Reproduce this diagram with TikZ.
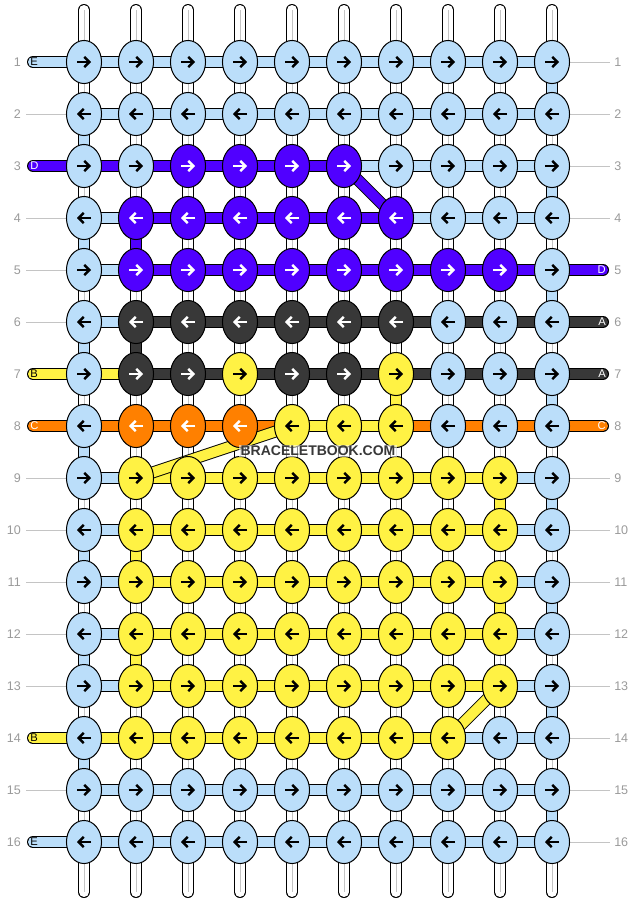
\documentclass[tikz,border=0pt]{standalone}
\usepackage{fontspec}
\setmainfont{Liberation Sans}
\usepackage{tikz}
\usetikzlibrary{shapes.geometric, arrows.meta}

\definecolor{strL}{HTML}{BBDEFA}
\definecolor{strP}{HTML}{5000FF}
\definecolor{strK}{HTML}{383838}
\definecolor{strY}{HTML}{FFF244}
\definecolor{strO}{HTML}{FF8000}
\definecolor{rulegray}{HTML}{C4C4C4}
\definecolor{numgray}{HTML}{9A9A9A}
\colorlet{inkL}{black}
\colorlet{inkY}{black}
\colorlet{inkP}{white}
\colorlet{inkK}{white}
\colorlet{inkO}{white}

\tikzset{
	knot/.style = {ellipse, draw = black, line width = 0.75pt, fill = str#1,
		minimum width = 26.3pt, minimum height = 32.3pt, inner sep = 0pt},
	thread/.style = {line width = 0.75pt, draw = black, double = str#1, double distance = 7.5pt},
	warp/.style = {line width = 0.75pt, draw = black, double = white, double distance = 7.5pt, line cap = round},
	pointer/.style = {line width = 1.8pt, -{Straight Barb[length = 3.8pt, width = 7.8pt]}},
	rownum/.style = {text = numgray, inner sep = 0pt, font = \fontsize{9.4}{11}\selectfont},
	tag/.style = {inner sep = 0pt, font = \fontsize{8.4}{10}\selectfont},
}

% row / knot colours / colours between knots / left tag / right tag
\def\rowdata{%
1/{L,L,L,L,L,L,L,L,L,L}/{L,L,L,L,L,L,L,L,L}/E/L/n/n,%
2/{L,L,L,L,L,L,L,L,L,L}/{L,L,L,L,L,L,L,L,L}/n/n/n/n,%
3/{L,L,P,P,P,P,L,L,L,L}/{P,P,P,P,P,L,L,L,L}/D/P/n/n,%
4/{L,P,P,P,P,P,P,L,L,L}/{L,P,P,P,P,P,L,L,L}/n/n/n/n,%
5/{L,P,P,P,P,P,P,P,P,L}/{L,P,P,P,P,P,P,P,P}/n/n/D/P,%
6/{L,K,K,K,K,K,K,L,L,L}/{L,K,K,K,K,K,K,K,K}/n/n/A/K,%
7/{L,K,K,Y,K,K,Y,L,L,L}/{Y,K,K,K,K,K,K,K,K}/B/Y/A/K,%
8/{L,O,O,O,Y,Y,Y,L,L,L}/{O,O,O,O,Y,Y,O,O,O}/C/O/C/O,%
9/{L,Y,Y,Y,Y,Y,Y,Y,Y,L}/{L,Y,Y,Y,Y,Y,Y,Y,L}/n/n/n/n,%
10/{L,Y,Y,Y,Y,Y,Y,Y,Y,L}/{L,Y,Y,Y,Y,Y,Y,Y,L}/n/n/n/n,%
11/{L,Y,Y,Y,Y,Y,Y,Y,Y,L}/{L,Y,Y,Y,Y,Y,Y,Y,L}/n/n/n/n,%
12/{L,Y,Y,Y,Y,Y,Y,Y,Y,L}/{L,Y,Y,Y,Y,Y,Y,Y,L}/n/n/n/n,%
13/{L,Y,Y,Y,Y,Y,Y,Y,Y,L}/{L,Y,Y,Y,Y,Y,Y,Y,L}/n/n/n/n,%
14/{L,Y,Y,Y,Y,Y,Y,Y,L,L}/{Y,Y,Y,Y,Y,Y,Y,L,L}/B/Y/n/n,%
15/{L,L,L,L,L,L,L,L,L,L}/{L,L,L,L,L,L,L,L,L}/n/n/n/n,%
16/{L,L,L,L,L,L,L,L,L,L}/{L,L,L,L,L,L,L,L,L}/E/L/n/n}

\begin{document}
\begin{tikzpicture}[x = 0.75pt, y = -0.75pt]
\useasboundingbox (0, 0) rectangle (636, 904);

% grid points
\foreach \r in {1, ..., 16} {
	\foreach \c in {1, ..., 10}
		\coordinate (p-\r-\c) at ({32 + 52*\c}, {10 + 52*\r});
	\coordinate (pl-\r) at (33, {10 + 52*\r});
	\coordinate (pr-\r) at (603, {10 + 52*\r});
	\coordinate (gl-\r) at (26, {10 + 52*\r});
	\coordinate (gr-\r) at (610, {10 + 52*\r});
}

% warp strings
\foreach \c in {1, ..., 10} {
	\coordinate (wt-\c) at ({32 + 52*\c}, 10);
	\coordinate (wb-\c) at ({32 + 52*\c}, 892);
	\draw[warp] (wt-\c) -- (wb-\c);
	\draw[rulegray, line width = 0.6pt] (wt-\c) -- (wb-\c);
}

% threads going down a row
\foreach \r in {2, 4, ..., 14} {
	\pgfmathtruncatemacro{\rn}{\r + 1}
	\draw[thread = L] (p-\r-1) -- (p-\rn-1);
}
\foreach \r in {1, 3, ..., 15} {
	\pgfmathtruncatemacro{\rn}{\r + 1}
	\draw[thread = L] (p-\r-10) -- (p-\rn-10);
}
\foreach \c/\r/\s in {2/4/P, 2/6/K, 2/10/Y, 2/12/Y, 7/7/Y, 9/9/Y, 9/11/Y} {
	\pgfmathtruncatemacro{\rn}{\r + 1}
	\draw[thread = \s] (p-\r-\c) -- (p-\rn-\c);
}

% threads along the rows, with the loose ends
\foreach \r/\knots/\segs/\la/\lc/\ra/\rc in \rowdata {
	\if n\la
		\draw[rulegray, line width = 0.75pt] (gl-\r) -- (p-\r-1);
	\else
		\draw[thread = \lc, line cap = round] (pl-\r) -- (p-\r-1);
		\node[tag, text = ink\lc, anchor = west] (tl-\r) at (30, {10 + 52*\r}) {\la};
	\fi
	\if n\ra
		\draw[rulegray, line width = 0.75pt] (p-\r-10) -- (gr-\r);
	\else
		\draw[thread = \rc, line cap = round] (p-\r-10) -- (pr-\r);
		\node[tag, text = ink\rc, anchor = east] (tr-\r) at (606, {10 + 52*\r}) {\ra};
	\fi
	\foreach \s [count = \c] in \segs {
		\pgfmathtruncatemacro{\cn}{\c + 1}
		\draw[thread = \s] (p-\r-\c) -- (p-\r-\cn);
	}
}

% crossings to the next row
\draw[thread = P] (p-3-6) -- (p-4-7);
\draw[thread = Y] (p-8-5) -- (p-9-2);
\draw[thread = Y] (p-13-9) -- (p-14-8);

% knots
\foreach \r/\knots/\segs/\la/\lc/\ra/\rc in \rowdata {
	\foreach \k [count = \c] in \knots {
		\node[knot = \k] (k-\r-\c) at (p-\r-\c) {};
		\ifodd\r
			\draw[pointer, color = ink\k] ([xshift = -5.25pt]k-\r-\c.center) -- ([xshift = 5.25pt]k-\r-\c.center);
		\else
			\draw[pointer, color = ink\k] ([xshift = 5.25pt]k-\r-\c.center) -- ([xshift = -5.25pt]k-\r-\c.center);
		\fi
	}
	\node[rownum, anchor = east] (nl-\r) at (21, {10 + 52*\r}) {\r};
	\node[rownum, anchor = west] (nr-\r) at (614, {10 + 52*\r}) {\r};
}

\node[font = \bfseries\fontsize{10.5}{12}\selectfont, text = black!78, fill = white,
	fill opacity = 0.55, text opacity = 1, inner sep = 1pt] (mark) at (318, 451) {BRACELETBOOK.COM};
\end{tikzpicture}
\end{document}
